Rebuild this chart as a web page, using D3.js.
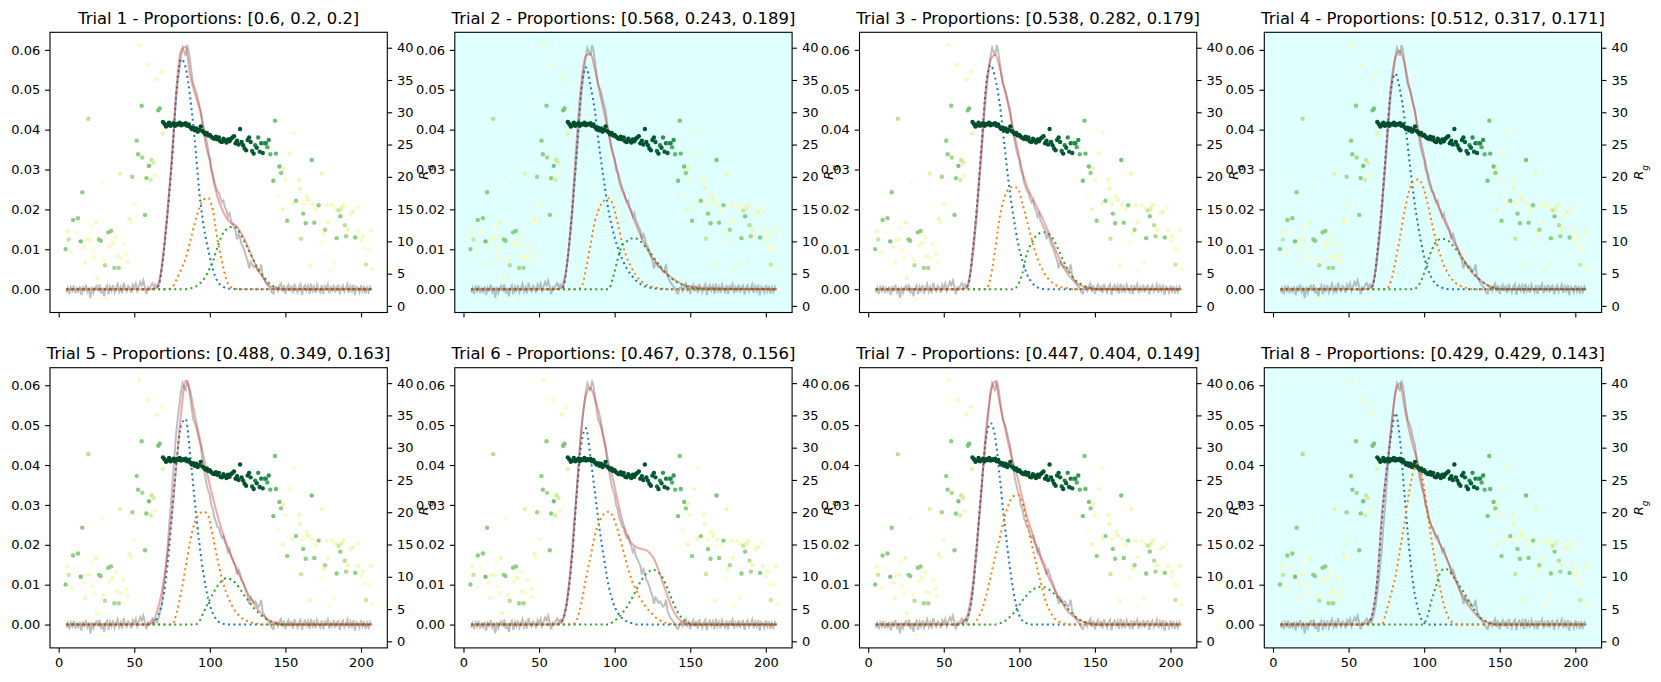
<!DOCTYPE html>
<html>
<head>
<meta charset="utf-8">
<script src="https://cdn.jsdelivr.net/npm/d3@7"></script>
<style>
body { margin: 0; background: #fff; }
svg text { font-family: "DejaVu Sans", sans-serif; fill: #000; }
</style>
</head>
<body>
<div id="chart"></div>
<script>
// ---- data ----
const trialProps = [
  [0.6, 0.2, 0.2], [0.568, 0.243, 0.189], [0.538, 0.282, 0.179], [0.512, 0.317, 0.171],
  [0.488, 0.349, 0.163], [0.467, 0.378, 0.156], [0.447, 0.404, 0.149], [0.429, 0.429, 0.143]
];
const shadedTrials = [2, 4, 8];

// measured intensity, one value per position from 5 to 207
const xStart = 5;
const intensity = [
  -0.0008, 0.0003, -0.0012, 0.0005, -0.0004, 0.0009, -0.0010, 0.0002, -0.0006, 0.0007,
  -0.0015, 0.0004, -0.0003, 0.0011, -0.0007, 0.0001, -0.0022, 0.0006, -0.0009, 0.0003,
  0.0008, -0.0005, 0.0012, -0.0011, 0.0004, -0.0018, 0.0002, 0.0009, -0.0013, 0.0006,
  -0.0004, 0.0010, -0.0008, 0.0003, 0.0013, -0.0006, 0.0005, -0.0010, 0.0016, 0.0002,
  -0.0005, 0.0008, 0.0004, -0.0009, 0.0011, 0.0003, 0.0014, -0.0004, 0.0007, 0.0018,
  0.0010, 0.0022, 0.0006, -0.0012, 0.0005, 0.0002, 0.0009, 0.0015, 0.0006, 0.0012,
  0.0005, 0.0015, 0.0030, 0.0048, 0.0078, 0.0110, 0.0150, 0.0190, 0.0245, 0.0290,
  0.0340, 0.0390, 0.0445, 0.0490, 0.0525, 0.0555, 0.0585, 0.0605, 0.0595, 0.0585,
  0.0612, 0.0598, 0.0570, 0.0540, 0.0515, 0.0505, 0.0495, 0.0478, 0.0462, 0.0448,
  0.0415, 0.0395, 0.0368, 0.0350, 0.0335, 0.0325, 0.0298, 0.0290, 0.0268, 0.0258,
  0.0245, 0.0242, 0.0228, 0.0218, 0.0222, 0.0205, 0.0198, 0.0182, 0.0190, 0.0172,
  0.0165, 0.0155, 0.0148, 0.0125, 0.0138, 0.0128, 0.0112, 0.0106, 0.0095, 0.0082,
  0.0072, 0.0052, 0.0068, 0.0062, 0.0055, 0.0058, 0.0052, 0.0045, 0.0048, 0.0062,
  0.0032, 0.0025, 0.0016, 0.0012, 0.0006, 0.0002, -0.0008, -0.0011, 0.0003, 0.0006,
  -0.0004, 0.0008, 0.0014, -0.0006, 0.0010, -0.0012, 0.0004, 0.0011, -0.0005, 0.0009,
  -0.0010, 0.0013, 0.0002, -0.0008, 0.0006, 0.0012, -0.0014, 0.0005, 0.0010, -0.0003,
  0.0008, -0.0011, 0.0014, -0.0004, 0.0006, -0.0009, 0.0011, 0.0001, -0.0007, 0.0010,
  -0.0012, 0.0007, 0.0002, 0.0012, -0.0010, 0.0005, -0.0003, 0.0011, -0.0008, 0.0006,
  0.0009, -0.0013, 0.0004, 0.0010, -0.0006, 0.0002, 0.0012, -0.0009, 0.0007, -0.0004,
  0.0011, -0.0015, 0.0006, 0.0003, -0.0008, 0.0010, -0.0005, 0.0008, -0.0011, 0.0004,
  -0.0007, 0.0006, -0.0002
];

// positions where the fitted curves are sampled
const compX = [5, 57, 60, 63, 66, 69, 72, 75, 78, 81, 84, 87, 90, 93, 96, 99, 102, 105,
  108, 111, 114, 117, 120, 123, 126, 129, 132, 135, 138, 141, 144, 147, 150, 153, 160, 207];

// total fit (red), one row per trial
const fitTotal = [
  [0,0,0,.0001,.0008,.0085,.0195,.033,.051,.0598,.0608,.0535,.0492,.0455,.0405,.0347,.028,.0232,.0201,.0178,.0166,.016,.0145,.0125,.0098,.0071,.0048,.003,.0014,.0005,.0001,0,0,0,0,0],
  [0,0,0,.0001,.0008,.008,.021,.038,.052,.0585,.059,.055,.0495,.0443,.0392,.0341,.0295,.0254,.022,.0192,.0164,.0136,.0112,.009,.0074,.0059,.0046,.0036,.0028,.002,.0014,.001,.0007,.0005,.0002,0],
  [0,0,0,.0001,.0008,.009,.021,.036,.051,.0575,.0588,.0555,.0505,.0455,.040,.0348,.0295,.0258,.0233,.021,.0188,.0163,.0135,.0107,.008,.0057,.0038,.0025,.0015,.0009,.0005,.0002,.0001,0,0,0],
  [0,0,0,.0001,.0008,.009,.021,.036,.051,.058,.0598,.0565,.051,.0458,.0405,.035,.0296,.0253,.022,.0192,.0166,.0141,.0117,.0095,.0074,.0056,.0041,.0029,.002,.0012,.0006,.0003,.0001,0,0,0],
  [0,0,.0001,.0012,.0045,.0098,.0178,.028,.0405,.053,.0612,.0585,.0525,.0472,.0418,.0365,.0318,.0275,.0236,.0203,.0172,.0145,.012,.0095,.0073,.0054,.0037,.0024,.0014,.0008,.0004,.0001,0,0,0,0],
  [0,0,0,.0002,.0015,.007,.0185,.034,.049,.0575,.0593,.0565,.0525,.0463,.0405,.0363,.031,.0262,.0227,.0205,.0195,.019,.0188,.018,.0165,.0137,.0103,.0072,.0041,.002,.0009,.0003,.0001,0,0,0],
  [0,0,.0001,.0008,.0028,.0095,.021,.0345,.047,.0578,.061,.0555,.0502,.0449,.0406,.0366,.0318,.027,.0236,.0201,.0167,.0138,.0113,.009,.0069,.005,.0034,.0023,.0015,.0009,.0005,.0002,.0001,0,0,0],
  [0,0,.0001,.0004,.003,.0115,.0275,.0385,.048,.058,.0605,.0545,.0488,.0443,.0405,.0345,.0285,.0244,.0222,.0198,.0175,.0145,.0116,.0091,.0069,.005,.0035,.0022,.0013,.0007,.0003,.0001,0,0,0,0]
];
// component 1 (blue)
const comp1 = [
  [0,0,0,.0001,.0008,.0075,.019,.0325,.050,.0577,.0555,.048,.0375,.0245,.0155,.0098,.005,.002,.0008,.0003,.0001, 0,0,0,0,0,0,0,0,0,0,0,0,0,0,0],
  [0,0,0,.0001,.0005,.008,.020,.035,.050,.0556,.051,.0445,.035,.027,.0195,.0145,.0105,.0075,.0052,.0035,.0022,.0013,.0007,.0004,.0002,.0001, 0,0,0,0,0,0,0,0,0,0],
  [0,0,0,.0001,.0008,.009,.021,.036,.051,.0562,.053,.0465,.0365,.0265,.0185,.0118,.0072,.0038,.0018,.0007,.0002, 0,0,0,0,0,0,0,0,0,0,0,0,0,0,0],
  [0,0,0,.0001,.0008,.009,.021,.036,.050,.054,.050,.043,.033,.0235,.016,.0098,.0055,.0028,.0012,.0005,.0001, 0,0,0,0,0,0,0,0,0,0,0,0,0,0,0],
  [0,0,.0001,.0004,.0025,.0065,.015,.028,.041,.050,.0515,.0425,.031,.0205,.0122,.0063,.0028,.001,.0003, 0,0,0,0,0,0,0,0,0,0,0,0,0,0,0,0,0],
  [0,0,0,.0002,.0015,.007,.0175,.033,.0455,.0492,.042,.033,.024,.0165,.0098,.0055,.003,.0016,.0008,.0004,.0001, 0,0,0,0,0,0,0,0,0,0,0,0,0,0,0],
  [0,0,0,.0003,.002,.008,.0205,.0345,.047,.0505,.047,.037,.026,.0165,.0085,.0033,.001,.0003, 0,0,0,0,0,0,0,0,0,0,0,0,0,0,0,0,0,0],
  [0,0,0,.0003,.003,.011,.026,.038,.047,.053,.0463,.0325,.0195,.0095,.0038,.0008,.0001, 0,0,0,0,0,0,0,0,0,0,0,0,0,0,0,0,0,0,0]
];
// component 2 (orange)
const comp2 = [
  [0,0,0,0,0,0,0, .0004,.0025,.005,.0077,.012,.0165,.0202,.0225,.0228,.0198,.0125,.007,.0023,.0005,.0001, 0,0,0,0,0,0,0,0,0,0,0,0,0,0],
  [0,0,0,0,0,0,0,0, .0005,.005,.011,.017,.0205,.0222,.0228,.021,.0165,.0115,.008,.0055,.0035,.0022,.0013,.0008,.0005,.0003,.0001, 0,0,0,0,0,0,0,0,0],
  [0,0,0,0,0,0,0,0,0, .003,.01,.018,.0228,.0252,.0257,.0252,.0215,.0172,.0128,.0088,.0058,.0037,.0022,.0013,.0007,.0004,.0002, 0,0,0,0,0,0,0,0,0],
  [0,0,0,0,0,0,0,0, .002,.007,.013,.0195,.0245,.0272,.0275,.026,.022,.0168,.012,.0082,.0052,.0032,.0018,.001,.0005,.0002, 0,0,0,0,0,0,0,0,0,0],
  [0,0,0,0,0,0,0,0, .003,.008,.0145,.021,.0255,.0277,.0283,.0271,.0222,.0165,.0115,.0078,.0052,.0033,.002,.0012,.0007,.0004,.0002, 0,0,0,0,0,0,0,0,0],
  [0,0,0,0,0,0,0, .0012,.0055,.0115,.017,.0225,.0258,.0278,.0283,.027,.0237,.0195,.0152,.0115,.0088,.0065,.0048,.0034,.0022,.0013,.0007,.0003,.0001, 0,0,0,0,0,0,0],
  [0,0,0,0,0,0, .0012,.0035,.0072,.012,.017,.0217,.0265,.0302,.0322,.0325,.0305,.0257,.0205,.0155,.0108,.0065,.0035,.0017,.0008,.0003,.0001, 0,0,0,0,0,0,0,0,0],
  [0,0,0,0,0,0,0, .0033,.0075,.012,.0187,.0255,.033,.0385,.040,.0365,.0285,.021,.0143,.0083,.0038,.0012,.0003, 0,0,0,0,0,0,0,0,0,0,0,0,0]
];
// component 3 (green)
const comp3 = [
  [0,0,0,0,0,0,0,0,0,0,0, .0002,.0005,.0013,.0025,.0045,.007,.0105,.0135,.015,.0156,.0155,.014,.0118,.0095,.0072,.005,.0034,.002,.001,.0004,.0001, 0,0,0,0],
  [0,0,0,0,0,0,0,0,0,0,0,0,0,0,0, .003,.0075,.011,.012,.0127,.0127,.012,.0108,.0095,.0078,.0063,.0048,.0036,.0026,.0018,.0012,.0007,.0004,.0002, 0,0],
  [0,0,0,0,0,0,0,0,0,0,0,0,0,0,0, .001,.004,.0089,.0115,.0133,.0141,.0143,.0137,.0122,.0098,.0072,.005,.0032,.002,.0012,.0006,.0003, 0,0,0,0],
  [0,0,0,0,0,0,0,0,0,0,0,0,0,0, .0008,.003,.0065,.0098,.0118,.0126,.0125,.0118,.0105,.009,.0073,.0057,.0042,.003,.002,.0012,.0006,.0003, 0,0,0,0],
  [0,0,0,0,0,0,0,0,0,0,0,0,0, .0008,.0032,.0055,.0077,.0096,.011,.0116,.0113,.0104,.0089,.0072,.0057,.0042,.003,.002,.0012,.0006,.0002, 0,0,0,0,0],
  [0,0,0,0,0,0,0,0,0,0,0,0,0,0,0, .0007,.0016,.0028,.0043,.0063,.0085,.0106,.0124,.0134,.0137,.0131,.0115,.009,.0062,.0036,.0018,.0008,.0002, 0,0,0],
  [0,0,0,0,0,0,0,0,0,0,0, .0003,.0008,.0017,.0028,.0043,.006,.0074,.0085,.0092,.0095,.0093,.0087,.0077,.0066,.0053,.004,.0028,.0017,.001,.0005,.0002, 0,0,0,0],
  [0,0,0,0,0,0,0,0,0,0,0,0,0,0,0,0, .0018,.0062,.0098,.0133,.014,.0133,.0117,.0099,.0082,.0062,.0043,.0027,.0015,.0008,.0003, 0,0,0,0,0]
];

// R_g scatter (right axis), coloured by level on YlGn
const rgX = [
  4.6, 5.7, 6.6, 8.8, 9.5, 11.9, 12.8, 14.6, 15.6, 16.5, 17.6, 18.5, 19.6, 20.7, 21.6, 22.5, 23.6, 24.7, 25.5, 26.7,
  27.8, 28.4, 29.8, 30.6, 31.7, 32.8, 33.5, 34.6, 35.7, 36.8, 37.7, 38.8, 39.7, 40.6, 41.2, 42.7, 44.7, 45.6, 46.7, 47.8,
  48.7, 50.0, 51.6, 52.5, 53.2, 54.9, 55.3, 57.1, 58.0, 58.9, 59.7, 60.9, 61.5, 62.8, 63.7, 65.0, 65.9, 66.8, 67.9, 68.8,
  69, 70, 71, 72, 73, 74, 75, 76, 77, 78, 79, 80, 81, 82, 83, 84, 85, 86, 87, 88,
  89, 90, 91, 92, 93, 94, 95, 96, 97, 98, 99, 100, 101, 102, 103, 104, 105, 106, 107, 108,
  109, 110, 111, 112, 113, 114, 115, 116, 117, 118, 119, 120, 121, 122, 123, 124, 125, 126, 127, 128,
  129, 130, 131, 132, 133, 134, 135, 136, 137, 138, 139, 140,
  142, 143.1, 143.7, 145.1, 146, 147.1, 148.2, 148.6, 149.9, 151.2, 152.6, 154.8, 155.2, 157, 159, 159.6, 160.3, 161.4, 161.8, 163.4,
  164, 165, 166.3, 167.4, 168, 169.1, 170.2, 172, 173.3, 174, 175.1, 176.2, 177.3, 178.2, 179, 181, 182.3, 183.3, 183.9, 185.2,
  186.3, 187, 188.3, 189.2, 190.1, 191.2, 193.2, 194.9, 196.2, 197.6, 198.2, 200.5, 201.1, 202.2, 203.3, 205.3, 206.4, 207.5
];
const rgVal = [
  8.8, 11.6, 10.3, 8.3, 13.3, 11.4, 13.6, 10.0, 17.6, 9.1, 6.7, 10.3, 29.0, 10.3, 12.2, 8.6, 7.5, 12.9, 4.3, 10.3,
  10.1, 19.1, 7.2, 6.3, 1.0, 11.4, 9.3, 11.6, 9.8, 5.9, 10.7, 7.7, 5.9, 20.5, 7.4, 9.5, 8.1, 6.9, 13.5, 13.0,
  20.0, 15.8, 25.6, 23.5, 40.4, 31.0, 23.0, 14.1, 19.8, 37.4, 21.7, 19.5, 22.6, 22.2, 20.2, 35.1, 30.3, 30.6, 36.3, 26.7,
  28.5, 28.2, 27.8, 28.0, 28.4, 27.9, 28.1, 28.3, 27.9, 28.2, 28.1, 28.4, 28.0, 28.2, 28.1, 28.3, 27.9, 28.1, 27.7, 27.4,
  27.6, 27.2, 27.5, 27.0, 27.3, 27.8, 27.1, 26.9, 26.6, 26.8, 26.4, 26.5, 26.2, 26.0, 25.9, 26.2, 25.8, 26.1, 25.5, 25.4,
  25.9, 25.6, 25.3, 25.8, 25.5, 25.9, 26.1, 26.3, 25.2, 25.6, 25.0, 27.4, 25.4, 24.9, 24.4, 24.1, 25.7, 26.1, 25.4, 24.0,
  23.6, 24.9, 24.5, 26.1, 23.9, 25.2, 23.7, 25.2, 25.2, 24.6, 25.7, 23.5,
  19.4, 28.7, 23.6, 17.2, 21.6, 20.6, 15.0, 21.3, 19.6, 13.2, 23.6, 15.9, 26.8, 16.3, 19.6, 18.2, 10.4, 15.8, 14.3, 12.8,
  17.0, 16.4, 6.3, 22.6, 15.8, 12.9, 14.9, 15.6, 9.8, 20.5, 11.2, 11.8, 15.6, 13.0, 5.4, 15.6, 6.7, 15.1, 10.5, 14.8,
  13.9, 15.1, 15.6, 12.5, 10.8, 11.8, 14.3, 14.6, 10.6, 15.2, 11.7, 10.1, 10.8, 8.9, 6.4, 8.7, 11.7, 5.7
];
const rgLevel = [
  .45, .12, .3, .08, .45, .05, .45, .5, .45, .1, .12, .12, .35, .12, .05, .06, .08, .15, .12, .45,
  .45, .04, .1, .35, .05, .45, .1, .45, .12, .4, .1, .12, .4, .2, .08, .1, .1, .1, .15, .1,
  .4, .1, .45, .45, .1, .45, .4, .45, .45, .1, .5, .25, .3, .25, .1, .12, .5, .5, .1, .2,
  .95, .97, .97, .97, .97, .97, .97, .97, .97, .97, .97, .97, .97, .97, .97, .97, .97, .97, .97, .97,
  .97, .97, .97, .97, .97, .97, .97, .97, .97, .97, .97, .97, .97, .97, .97, .97, .97, .97, .97, .97,
  .97, .97, .97, .97, .97, .97, .97, .97, .97, .95, .95, .95, .95, .95, .95, .95, .93, .93, .9, .85,
  .95, .75, .9, .7, .92, .8, .9, .65, .75, .6, .7, .55,
  .5, .5, .55, .04, .5, .45, .15, .15, .1, .45, .12, .12, .08, .45, .12, .15, .3, .1, .45, .45,
  .12, .15, .12, .5, .12, .45, .1, .45, .05, .15, .12, .4, .12, .12, .05, .1, .08, .12, .45, .3,
  .45, .2, .15, .35, .4, .15, .12, .15, .45, .08, .12, .1, .12, .08, .3, .08, .12, .08
];

const leftTicks = [0, 0.01, 0.02, 0.03, 0.04, 0.05, 0.06];
const rightTicks = [0, 5, 10, 15, 20, 25, 30, 35, 40];
const xTicks = [0, 50, 100, 150, 200];

[fitTotal, comp1, comp2, comp3].forEach((c, k) => c.forEach((row, i) => {
  if (row.length !== compX.length) throw new Error(`set ${k} row ${i + 1} has ${row.length}`);
}));
if (rgX.length !== rgVal.length || rgX.length !== rgLevel.length)
  throw new Error(`scatter lengths ${rgX.length} ${rgVal.length} ${rgLevel.length}`);

// ---- layout ----
const W = 1661, H = 682;
const panelLeft = [50, 454.8, 859.5, 1264.3];
const panelTop = [32.3, 367.7];
const pw = 337.3, ph = 280.2;
const tickLen = 4.9, tickPad = 4.9;
const compColors = ["#1f77b4", "#ff7f0e", "#2ca02c"];

const x = d3.scaleLinear().domain([-5.75, 217.4]).range([0, pw]);
const yL = d3.scaleLinear().domain([-0.00585, 0.0644]).range([ph, 0]);
const yR = d3.scaleLinear().domain([-1.02, 42.39]).range([ph, 0]);

const svg = d3.select("#chart").append("svg")
  .attr("width", W).attr("height", H)
  .attr("viewBox", [0, 0, W, H]);
svg.append("rect").attr("width", W).attr("height", H).attr("fill", "#fff");

const dataLine = d3.line()
  .x((d, i) => x(xStart + i))
  .y(d => yL(d));
const fitLine = d3.line()
  .x((d, i) => x(compX[i]))
  .y(d => yL(d))
  .curve(d3.curveMonotoneX);

const scatter = rgX.map((d, i) => ({x: d, rg: rgVal[i], c: rgLevel[i]}));

trialProps.forEach((props, t) => {
  const col = t % 4, row = Math.floor(t / 4);
  const g = svg.append("g")
    .attr("transform", `translate(${panelLeft[col]},${panelTop[row]})`);

  g.append("rect")
    .attr("width", pw).attr("height", ph)
    .attr("fill", shadedTrials.includes(t + 1) ? "#e0ffff" : "#fff");

  // measured data
  g.append("path").datum(intensity)
    .attr("d", dataLine)
    .attr("fill", "none")
    .attr("stroke", "#808080").attr("stroke-opacity", 0.5)
    .attr("stroke-width", 2);

  // components
  [comp1[t], comp2[t], comp3[t]].forEach((r, k) => {
    g.append("path").datum(r)
      .attr("d", fitLine)
      .attr("fill", "none")
      .attr("stroke", compColors[k])
      .attr("stroke-width", 2)
      .attr("stroke-dasharray", "2,3.4");
  });

  // total fit
  g.append("path").datum(fitTotal[t])
    .attr("d", fitLine)
    .attr("fill", "none")
    .attr("stroke", "#d62728").attr("stroke-opacity", 0.4)
    .attr("stroke-width", 2);

  // R_g points
  g.append("g").selectAll("circle")
    .data(scatter)
    .enter().append("circle")
    .attr("cx", d => x(d.x))
    .attr("cy", d => yR(d.rg))
    .attr("r", 2.2)
    .attr("fill", d => d3.interpolateYlGn(d.c));

  // axes
  const ax = g.append("g");
  const bottom = d3.axisBottom(x).tickValues(xTicks)
    .tickSize(tickLen).tickPadding(tickPad);
  if (row === 0) bottom.tickFormat("");
  ax.append("g").attr("transform", `translate(0,${ph})`).call(bottom);
  ax.append("g").call(d3.axisLeft(yL).tickValues(leftTicks)
    .tickFormat(d3.format(".2f")).tickSize(tickLen).tickPadding(tickPad));
  ax.append("g").attr("transform", `translate(${pw},0)`).call(d3.axisRight(yR)
    .tickValues(rightTicks).tickSize(tickLen).tickPadding(tickPad));
  ax.selectAll(".domain").remove();
  ax.selectAll(".tick line").attr("stroke", "#000").attr("stroke-width", 1.1);
  ax.selectAll("text").attr("fill", "#000")
    .style("font-size", "13px")
    .style("font-family", "'DejaVu Sans', sans-serif");

  g.append("rect")
    .attr("width", pw).attr("height", ph)
    .attr("fill", "none").attr("stroke", "#000").attr("stroke-width", 1.1);

  // right axis label
  const lab = g.append("text")
    .attr("transform", `translate(${pw + 41},${ph / 2}) rotate(-90)`)
    .attr("text-anchor", "middle")
    .style("font-size", "13px");
  lab.append("tspan").attr("font-style", "italic").text("R");
  lab.append("tspan").attr("font-style", "italic")
    .attr("baseline-shift", "sub").style("font-size", "9px").text("g");

  // title
  g.append("text")
    .attr("x", pw / 2).attr("y", -8.3)
    .attr("text-anchor", "middle")
    .style("font-size", "16.4px")
    .text(`Trial ${t + 1} - Proportions: [${props.join(", ")}]`);
});
</script>
</body>
</html>
